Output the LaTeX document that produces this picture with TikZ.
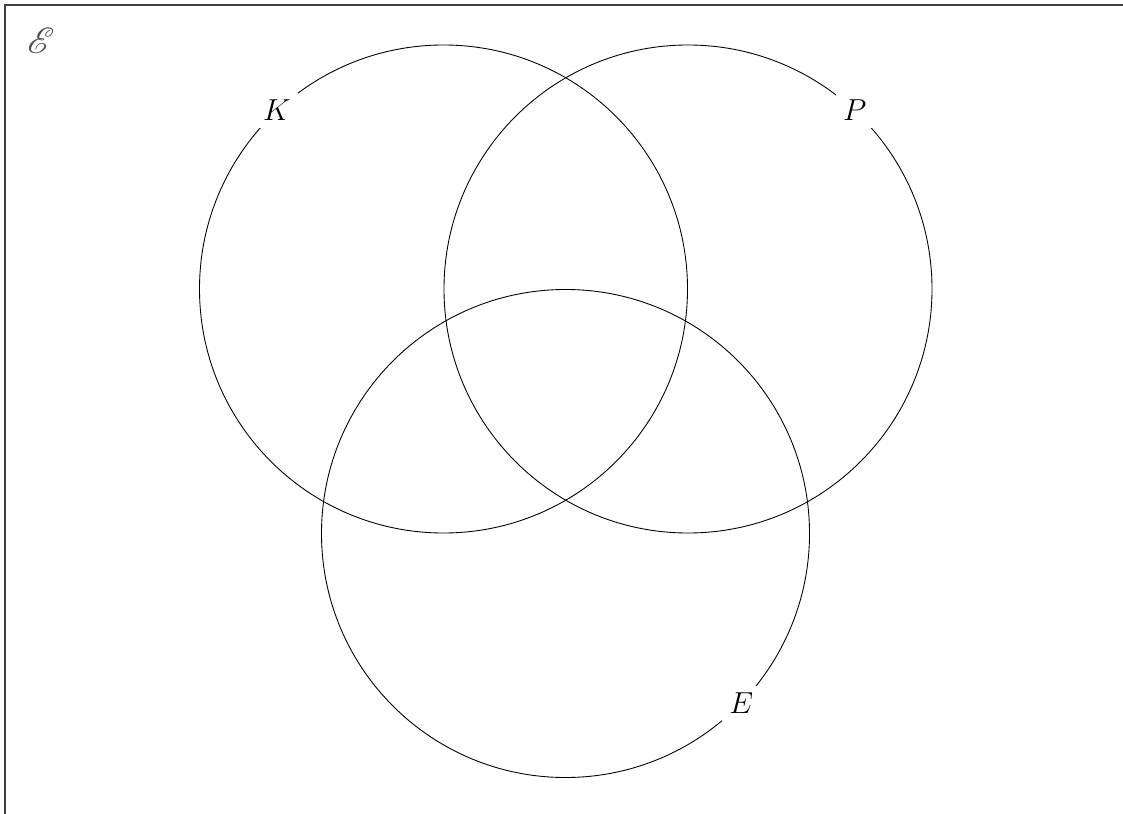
\documentclass[tikz,border=0pt]{standalone}
\usepackage{amsmath,amssymb,mathrsfs}
\usetikzlibrary{positioning}

\begin{document}
\begin{tikzpicture}[
    x=0.2mm,
    y=-0.2mm,
    frame/.style={
        draw=black!75,
        line width=0.35mm
    },
    setcircle/.style={
        draw,
        circle,
        line width=0.5pt,
        inner sep=0pt,
        minimum size=97.6mm
    },
    setlabel/.style={
        fill=white,
        inner sep=4pt,
        font=\fontsize{19}{23}\selectfont
    },
    universe/.style={
        text=black!70,
        font=\huge
    }
]

\useasboundingbox (0,0) rectangle (1123,814);

% ------------------------------------------------------------
% Universal set
% ------------------------------------------------------------
\draw[frame] (5,5) rectangle (1140,830);
\node[universe] (univ) at (41,41) {$\mathscr{E}$};

% ------------------------------------------------------------
% The three sets
% ------------------------------------------------------------
\node[setcircle] (K) at (443.5,289) {};
\node[setcircle] (P) at (688,289)   {};
\node[setcircle] (E) at (565.5,533.5) {};

% Labels sit on the circles and break them
\node[setlabel] (K-label) at (K.133) {$K$};
\node[setlabel] (P-label) at (P.47)  {$P$};
\node[setlabel] (E-label) at (E.-44) {$E$};

\end{tikzpicture}
\end{document}
